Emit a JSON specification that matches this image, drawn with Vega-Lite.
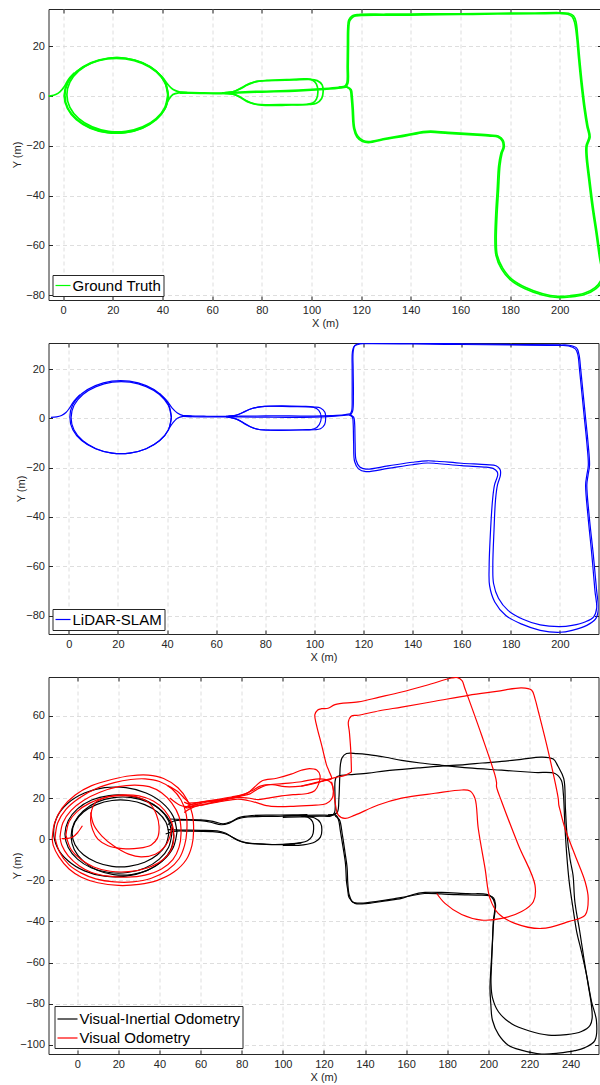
{
"$schema":"https://vega.github.io/schema/vega-lite/v6.json",
"padding":{"left":10.5,"top":8,"right":0,"bottom":0},
"columns":1,
"spacing":13,
"resolve":{"scale":{"x":"independent","y":"independent","color":"independent"},"legend":{"color":"independent"}},
"config":{
 "font":"Liberation Sans",
 "view":{"stroke":"#262626","strokeWidth":1},
 "axis":{"domain":false,"grid":true,"gridColor":"#d6d6d6","gridDash":[4,3],"gridWidth":0.8,"labelFont":"Liberation Sans","labelFontSize":11,"labelColor":"#262626","titleFont":"Liberation Sans","titleFontSize":11,"titleFontWeight":"normal","titleColor":"#262626","tickColor":"#262626","tickSize":-4,"labelPadding":8,"labelFlush":false,"labelOverlap":false},
 "axisX":{"titleY":23.5,"titleBaseline":"middle"},
 "axisY":{"titleX":-31,"titleBaseline":"middle"},
 "legend":{"orient":"bottom-left","labelFont":"Liberation Sans","labelFontSize":15,"labelColor":"#000000","symbolType":"stroke","symbolStrokeWidth":1.2,"strokeColor":"#262626","fillColor":"#ffffff","padding":2,"labelOffset":1,"rowPadding":0,"labelLimit":400}
},
"datasets":{
"gt":[
{"s":0,"x":-7.3,"y":0},{"s":0,"x":-5,"y":0.1},{"s":0,"x":-3,"y":0.6},{"s":0,"x":-1.2,"y":1.8},{"s":0,"x":0.5,"y":3.8},{"s":0,"x":2,"y":6.5},{"s":0,"x":4.5,"y":9.3},
{"s":1,"x":42.3,"y":0.3},{"s":1,"x":41.1,"y":5.5},{"s":1,"x":37.4,"y":10},{"s":1,"x":31.9,"y":13.4},{"s":1,"x":25.1,"y":15.2},{"s":1,"x":17.9,"y":15.2},{"s":1,"x":11.1,"y":13.4},{"s":1,"x":5.6,"y":10},{"s":1,"x":1.9,"y":5.5},{"s":1,"x":0.7,"y":0.3},{"s":1,"x":1.9,"y":-4.9},{"s":1,"x":5.6,"y":-9.4},{"s":1,"x":11.1,"y":-12.8},{"s":1,"x":17.9,"y":-14.6},{"s":1,"x":25.1,"y":-14.6},{"s":1,"x":31.9,"y":-12.8},{"s":1,"x":37.4,"y":-9.4},{"s":1,"x":41.1,"y":-4.9},{"s":1,"x":42.3,"y":0.3},
{"s":2,"x":42.1,"y":0.5},{"s":2,"x":40.9,"y":5.6},{"s":2,"x":37.4,"y":10.1},{"s":2,"x":32,"y":13.4},{"s":2,"x":25.3,"y":15.2},{"s":2,"x":18.3,"y":15.2},{"s":2,"x":11.7,"y":13.4},{"s":2,"x":6.3,"y":10.1},{"s":2,"x":2.7,"y":5.6},{"s":2,"x":1.5,"y":0.5},{"s":2,"x":2.7,"y":-4.6},{"s":2,"x":6.3,"y":-9.1},{"s":2,"x":11.7,"y":-12.4},{"s":2,"x":18.3,"y":-14.2},{"s":2,"x":25.3,"y":-14.2},{"s":2,"x":32,"y":-12.4},{"s":2,"x":37.4,"y":-9.1},{"s":2,"x":40.9,"y":-4.6},{"s":2,"x":42.1,"y":0.5},
{"s":3,"x":42.4,"y":0.1},{"s":3,"x":41.1,"y":5.2},{"s":3,"x":37.5,"y":9.7},{"s":3,"x":31.9,"y":13.1},{"s":3,"x":25.1,"y":14.9},{"s":3,"x":17.7,"y":14.9},{"s":3,"x":10.9,"y":13.1},{"s":3,"x":5.3,"y":9.7},{"s":3,"x":1.7,"y":5.2},{"s":3,"x":0.4,"y":0.1},{"s":3,"x":1.7,"y":-5},{"s":3,"x":5.3,"y":-9.5},{"s":3,"x":10.9,"y":-12.9},{"s":3,"x":17.7,"y":-14.7},{"s":3,"x":25.1,"y":-14.7},{"s":3,"x":31.9,"y":-12.9},{"s":3,"x":37.5,"y":-9.5},{"s":3,"x":41.1,"y":-5},{"s":3,"x":42.4,"y":0.1},
{"s":4,"x":37.4,"y":10},{"s":4,"x":40,"y":7.5},{"s":4,"x":42.3,"y":4.5},{"s":4,"x":44.3,"y":2.6},{"s":4,"x":47,"y":1.6},{"s":4,"x":50,"y":1.4},
{"s":5,"x":41.5,"y":-3.5},{"s":5,"x":42.6,"y":-1.3},{"s":5,"x":44.2,"y":0.6},{"s":5,"x":46.5,"y":1.3},{"s":5,"x":50,"y":1.3},
{"s":6,"x":47,"y":1.5},{"s":6,"x":55,"y":1.3},{"s":6,"x":62,"y":1.2},{"s":6,"x":68,"y":1.4},{"s":6,"x":75,"y":1.8},{"s":6,"x":85,"y":2},{"s":6,"x":95,"y":2.4},{"s":6,"x":105,"y":3},{"s":6,"x":111,"y":3.5},{"s":6,"x":114,"y":3.9},
{"s":7,"x":47,"y":1.2},{"s":7,"x":55,"y":1.1},{"s":7,"x":62,"y":1},{"s":7,"x":68,"y":1.2},{"s":7,"x":80,"y":1.6},{"s":7,"x":95,"y":2.1},{"s":7,"x":105,"y":2.7},{"s":7,"x":112,"y":3.3},{"s":7,"x":114.5,"y":3.7},
{"s":8,"x":64,"y":1.3},{"s":8,"x":68,"y":1.6},{"s":8,"x":71,"y":2.7},{"s":8,"x":74,"y":4.4},{"s":8,"x":77,"y":5.6},{"s":8,"x":80,"y":6.1},{"s":8,"x":86,"y":6.3},{"s":8,"x":93,"y":6.5},{"s":8,"x":99,"y":6.7},{"s":8,"x":102.3,"y":6.2},{"s":8,"x":104.3,"y":4.5},{"s":8,"x":104.7,"y":1.7},{"s":8,"x":104.1,"y":-1},{"s":8,"x":102,"y":-2.9},{"s":8,"x":99,"y":-3.4},{"s":8,"x":92,"y":-3.6},{"s":8,"x":85,"y":-3.8},{"s":8,"x":80,"y":-3.7},{"s":8,"x":77,"y":-3.2},{"s":8,"x":74,"y":-2},{"s":8,"x":71,"y":-0.2},{"s":8,"x":68,"y":0.9},{"s":8,"x":64,"y":1.2},
{"s":9,"x":65,"y":1.4},{"s":9,"x":69,"y":1.9},{"s":9,"x":72,"y":3.4},{"s":9,"x":75,"y":5},{"s":9,"x":78,"y":5.9},{"s":9,"x":82,"y":6.3},{"s":9,"x":90,"y":6.6},{"s":9,"x":98,"y":6.9},{"s":9,"x":100.5,"y":6.4},{"s":9,"x":102,"y":4.8},{"s":9,"x":102.6,"y":1.7},{"s":9,"x":102,"y":-1.2},{"s":9,"x":100.5,"y":-2.8},{"s":9,"x":98,"y":-3.3},{"s":9,"x":90,"y":-3.4},{"s":9,"x":82,"y":-3.5},{"s":9,"x":78,"y":-3.3},{"s":9,"x":75,"y":-2.6},{"s":9,"x":72,"y":-1},{"s":9,"x":69,"y":0.6},{"s":9,"x":65,"y":1.1},
{"s":10,"x":113.5,"y":3.9},{"s":10,"x":114.3,"y":5.5},{"s":10,"x":114.4,"y":12},{"s":10,"x":114.5,"y":20},{"s":10,"x":114.6,"y":27},{"s":10,"x":115,"y":30.5},{"s":10,"x":116.5,"y":32.3},{"s":10,"x":119,"y":32.8},{"s":10,"x":130,"y":32.9},{"s":10,"x":145,"y":33},{"s":10,"x":160,"y":33.1},{"s":10,"x":175,"y":33.3},{"s":10,"x":190,"y":33.4},{"s":10,"x":200,"y":33.5},{"s":10,"x":203.5,"y":33.3},{"s":10,"x":205.5,"y":32.3},{"s":10,"x":206.5,"y":30},{"s":10,"x":207.2,"y":24},{"s":10,"x":208,"y":15},{"s":10,"x":209,"y":5},{"s":10,"x":210.2,"y":-5},{"s":10,"x":211.3,"y":-12},{"s":10,"x":212.2,"y":-16.5},{"s":10,"x":211,"y":-20},{"s":10,"x":211,"y":-24},{"s":10,"x":212,"y":-33},{"s":10,"x":213.5,"y":-45},{"s":10,"x":215,"y":-55},{"s":10,"x":216.4,"y":-65},{"s":10,"x":217.5,"y":-71},{"s":10,"x":217,"y":-74.5},{"s":10,"x":214.5,"y":-77.5},{"s":10,"x":210,"y":-79.8},{"s":10,"x":204,"y":-80.8},{"s":10,"x":199,"y":-81},{"s":10,"x":193,"y":-80},{"s":10,"x":186,"y":-77.5},{"s":10,"x":180,"y":-73.8},{"s":10,"x":176.5,"y":-69.5},{"s":10,"x":174.3,"y":-64},{"s":10,"x":173.9,"y":-58},{"s":10,"x":174.2,"y":-48},{"s":10,"x":174.8,"y":-38},{"s":10,"x":175.4,"y":-28},{"s":10,"x":176.3,"y":-23},{"s":10,"x":177.2,"y":-20.5},{"s":10,"x":176.8,"y":-18},{"s":10,"x":175,"y":-16.5},{"s":10,"x":172,"y":-16.1},{"s":10,"x":165,"y":-15.6},{"s":10,"x":155,"y":-15},{"s":10,"x":148,"y":-14.5},{"s":10,"x":145,"y":-14.7},{"s":10,"x":138,"y":-16},{"s":10,"x":130,"y":-17.3},{"s":10,"x":123,"y":-18.7},{"s":10,"x":120.5,"y":-18.3},{"s":10,"x":118.3,"y":-16.5},{"s":10,"x":117,"y":-13},{"s":10,"x":116.4,"y":-5},{"s":10,"x":116,"y":0},{"s":10,"x":115.6,"y":2.5},{"s":10,"x":114.2,"y":3.7},{"s":10,"x":111,"y":3.6},
{"s":11,"x":113.8,"y":3.6},{"s":11,"x":114.7,"y":5.2},{"s":11,"x":114.8,"y":12},{"s":11,"x":114.9,"y":20},{"s":11,"x":115,"y":27},{"s":11,"x":115.4,"y":30.2},{"s":11,"x":117,"y":32},{"s":11,"x":120,"y":32.4},{"s":11,"x":130,"y":32.5},{"s":11,"x":145,"y":32.6},{"s":11,"x":160,"y":32.8},{"s":11,"x":175,"y":33},{"s":11,"x":190,"y":33.1},{"s":11,"x":200,"y":33.2},{"s":11,"x":203.2,"y":32.9},{"s":11,"x":205,"y":31.9},{"s":11,"x":206,"y":29.5},{"s":11,"x":206.8,"y":24},{"s":11,"x":207.6,"y":15},{"s":11,"x":208.6,"y":5},{"s":11,"x":209.8,"y":-5},{"s":11,"x":210.9,"y":-12},{"s":11,"x":211.8,"y":-16.3},{"s":11,"x":210.6,"y":-20},{"s":11,"x":210.6,"y":-24},{"s":11,"x":211.6,"y":-33},{"s":11,"x":213.1,"y":-45},{"s":11,"x":214.6,"y":-55},{"s":11,"x":216,"y":-65},{"s":11,"x":217,"y":-71},{"s":11,"x":216.6,"y":-74},{"s":11,"x":214.2,"y":-77},{"s":11,"x":209.8,"y":-79.3},{"s":11,"x":204,"y":-80.3},{"s":11,"x":199,"y":-80.5},{"s":11,"x":193.2,"y":-79.5},{"s":11,"x":186.3,"y":-77},{"s":11,"x":180.4,"y":-73.4},{"s":11,"x":177,"y":-69.2},{"s":11,"x":174.8,"y":-64},{"s":11,"x":174.4,"y":-58},{"s":11,"x":174.7,"y":-48},{"s":11,"x":175.3,"y":-38},{"s":11,"x":175.9,"y":-28},{"s":11,"x":176.7,"y":-23.2},{"s":11,"x":177.6,"y":-20.6},{"s":11,"x":177.2,"y":-17.8},{"s":11,"x":175.2,"y":-16.1},{"s":11,"x":172,"y":-15.7},{"s":11,"x":165,"y":-15.2},{"s":11,"x":155,"y":-14.6},{"s":11,"x":148,"y":-14.1},{"s":11,"x":145,"y":-14.3},{"s":11,"x":138,"y":-15.6},{"s":11,"x":130,"y":-17},{"s":11,"x":123,"y":-18.3},{"s":11,"x":120.8,"y":-17.9},{"s":11,"x":118.7,"y":-16.2},{"s":11,"x":117.4,"y":-13},{"s":11,"x":116.8,"y":-5},{"s":11,"x":116.4,"y":0},{"s":11,"x":116,"y":2.5},{"s":11,"x":114.5,"y":3.5}
],
"sl":[
{"s":0,"x":-7.3,"y":0.4},{"s":0,"x":-5,"y":0.6},{"s":0,"x":-3,"y":1.2},{"s":0,"x":-1.2,"y":2.4},{"s":0,"x":0.4,"y":4.4},{"s":0,"x":1.8,"y":6.6},{"s":0,"x":4.5,"y":9.6},
{"s":1,"x":41.8,"y":0.5},{"s":1,"x":40.6,"y":5.6},{"s":1,"x":37,"y":10},{"s":1,"x":31.5,"y":13.3},{"s":1,"x":24.7,"y":15.1},{"s":1,"x":17.5,"y":15.1},{"s":1,"x":10.8,"y":13.3},{"s":1,"x":5.2,"y":10},{"s":1,"x":1.6,"y":5.6},{"s":1,"x":0.4,"y":0.5},{"s":1,"x":1.6,"y":-4.6},{"s":1,"x":5.2,"y":-9},{"s":1,"x":10.8,"y":-12.3},{"s":1,"x":17.5,"y":-14.1},{"s":1,"x":24.7,"y":-14.1},{"s":1,"x":31.5,"y":-12.3},{"s":1,"x":37,"y":-9},{"s":1,"x":40.6,"y":-4.6},{"s":1,"x":41.8,"y":0.5},
{"s":2,"x":41.7,"y":0.3},{"s":2,"x":40.5,"y":5.3},{"s":2,"x":36.9,"y":9.7},{"s":2,"x":31.5,"y":12.9},{"s":2,"x":24.9,"y":14.7},{"s":2,"x":17.7,"y":14.7},{"s":2,"x":11.1,"y":12.9},{"s":2,"x":5.7,"y":9.7},{"s":2,"x":2.1,"y":5.3},{"s":2,"x":0.9,"y":0.3},{"s":2,"x":2.1,"y":-4.7},{"s":2,"x":5.7,"y":-9.1},{"s":2,"x":11.1,"y":-12.3},{"s":2,"x":17.7,"y":-14.1},{"s":2,"x":24.9,"y":-14.1},{"s":2,"x":31.5,"y":-12.3},{"s":2,"x":36.9,"y":-9.1},{"s":2,"x":40.5,"y":-4.7},{"s":2,"x":41.7,"y":0.3},
{"s":3,"x":37,"y":10},{"s":3,"x":39.8,"y":7.3},{"s":3,"x":42,"y":4.3},{"s":3,"x":44.2,"y":2.2},{"s":3,"x":46.6,"y":1.1},{"s":3,"x":50,"y":0.9},
{"s":4,"x":41,"y":-3.8},{"s":4,"x":42.5,"y":-1.6},{"s":4,"x":44.2,"y":0.1},{"s":4,"x":46.6,"y":0.8},{"s":4,"x":50,"y":0.7},
{"s":5,"x":46.6,"y":1.1},{"s":5,"x":55,"y":0.9},{"s":5,"x":62,"y":0.8},{"s":5,"x":70,"y":0.9},{"s":5,"x":80,"y":1},{"s":5,"x":90,"y":1},{"s":5,"x":100,"y":0.9},{"s":5,"x":107,"y":1.1},{"s":5,"x":112,"y":1.4},{"s":5,"x":114.5,"y":1.8},
{"s":6,"x":46.6,"y":0.8},{"s":6,"x":55,"y":0.6},{"s":6,"x":62,"y":0.6},{"s":6,"x":70,"y":0.6},{"s":6,"x":80,"y":0.5},{"s":6,"x":90,"y":0.4},{"s":6,"x":100,"y":0.5},{"s":6,"x":107,"y":0.8},{"s":6,"x":112,"y":1.2},{"s":6,"x":114.5,"y":1.4},
{"s":7,"x":64,"y":0.8},{"s":7,"x":68,"y":1.2},{"s":7,"x":71,"y":2.4},{"s":7,"x":74,"y":3.8},{"s":7,"x":77,"y":4.6},{"s":7,"x":80,"y":4.9},{"s":7,"x":90,"y":4.8},{"s":7,"x":100,"y":4.6},{"s":7,"x":102.5,"y":4.2},{"s":7,"x":104.3,"y":2.5},{"s":7,"x":104.6,"y":0},{"s":7,"x":104.2,"y":-2.5},{"s":7,"x":102.5,"y":-4.2},{"s":7,"x":100,"y":-4.6},{"s":7,"x":90,"y":-4.7},{"s":7,"x":80,"y":-4.7},{"s":7,"x":77,"y":-4.4},{"s":7,"x":74,"y":-3.4},{"s":7,"x":71,"y":-1.7},{"s":7,"x":68,"y":-0.2},{"s":7,"x":64,"y":0.6},
{"s":8,"x":65,"y":0.9},{"s":8,"x":69,"y":1.6},{"s":8,"x":72,"y":3},{"s":8,"x":75,"y":4.1},{"s":8,"x":78,"y":4.7},{"s":8,"x":82,"y":5},{"s":8,"x":95,"y":4.9},{"s":8,"x":99.5,"y":4.6},{"s":8,"x":101.8,"y":3.3},{"s":8,"x":102.8,"y":0.5},{"s":8,"x":102,"y":-2.5},{"s":8,"x":100,"y":-4.2},{"s":8,"x":95,"y":-4.6},{"s":8,"x":82,"y":-4.8},{"s":8,"x":78,"y":-4.6},{"s":8,"x":75,"y":-3.9},{"s":8,"x":72,"y":-2.5},{"s":8,"x":69,"y":-0.6},{"s":8,"x":65,"y":0.6},
{"s":9,"x":114.5,"y":1.6},{"s":9,"x":115.2,"y":3},{"s":9,"x":115.4,"y":10},{"s":9,"x":115.4,"y":20},{"s":9,"x":115.5,"y":27},{"s":9,"x":116.2,"y":29.2},{"s":9,"x":118.5,"y":30.2},{"s":9,"x":121,"y":30.3},{"s":9,"x":140,"y":30.2},{"s":9,"x":160,"y":30},{"s":9,"x":180,"y":29.8},{"s":9,"x":200,"y":29.6},{"s":9,"x":203.5,"y":29.4},{"s":9,"x":206.3,"y":28.2},{"s":9,"x":207.3,"y":26},{"s":9,"x":208,"y":20},{"s":9,"x":209,"y":10},{"s":9,"x":210,"y":0},{"s":9,"x":211,"y":-10},{"s":9,"x":211.6,"y":-19},{"s":9,"x":211,"y":-23},{"s":9,"x":210.5,"y":-27},{"s":9,"x":211.5,"y":-40},{"s":9,"x":213,"y":-55},{"s":9,"x":214.3,"y":-70},{"s":9,"x":215,"y":-77},{"s":9,"x":213.8,"y":-80.5},{"s":9,"x":210.5,"y":-82.5},{"s":9,"x":205,"y":-84},{"s":9,"x":200,"y":-84.5},{"s":9,"x":192,"y":-83.8},{"s":9,"x":185,"y":-81.5},{"s":9,"x":179,"y":-78},{"s":9,"x":175,"y":-73},{"s":9,"x":173,"y":-67},{"s":9,"x":172.7,"y":-60},{"s":9,"x":173.2,"y":-45},{"s":9,"x":173.8,"y":-33},{"s":9,"x":174.6,"y":-27},{"s":9,"x":175.8,"y":-23},{"s":9,"x":175.7,"y":-20.8},{"s":9,"x":174,"y":-19.2},{"s":9,"x":170,"y":-18.8},{"s":9,"x":160,"y":-18.2},{"s":9,"x":150,"y":-17.4},{"s":9,"x":146,"y":-17.2},{"s":9,"x":140,"y":-17.8},{"s":9,"x":130,"y":-19.3},{"s":9,"x":121,"y":-20.6},{"s":9,"x":118.5,"y":-19.7},{"s":9,"x":117,"y":-17},{"s":9,"x":116.6,"y":-10},{"s":9,"x":116.4,"y":-2},{"s":9,"x":116,"y":0.5},{"s":9,"x":114.5,"y":1.5},
{"s":10,"x":114.7,"y":1.3},{"s":10,"x":115.6,"y":3},{"s":10,"x":115.9,"y":10},{"s":10,"x":115.8,"y":20},{"s":10,"x":115.8,"y":27},{"s":10,"x":116.5,"y":29.6},{"s":10,"x":119,"y":30.5},{"s":10,"x":121,"y":30.6},{"s":10,"x":140,"y":30.5},{"s":10,"x":160,"y":30.3},{"s":10,"x":180,"y":30},{"s":10,"x":200,"y":29.8},{"s":10,"x":203.8,"y":29.7},{"s":10,"x":206.8,"y":28.6},{"s":10,"x":207.8,"y":26},{"s":10,"x":208.5,"y":20},{"s":10,"x":209.5,"y":10},{"s":10,"x":210.5,"y":0},{"s":10,"x":211.5,"y":-10},{"s":10,"x":212.1,"y":-19},{"s":10,"x":211.5,"y":-23},{"s":10,"x":211,"y":-27},{"s":10,"x":212,"y":-40},{"s":10,"x":213.6,"y":-55},{"s":10,"x":215,"y":-70},{"s":10,"x":215.7,"y":-77.5},{"s":10,"x":214.5,"y":-81.5},{"s":10,"x":211,"y":-84},{"s":10,"x":205,"y":-86},{"s":10,"x":200,"y":-86.8},{"s":10,"x":192,"y":-86},{"s":10,"x":184.5,"y":-83.5},{"s":10,"x":178,"y":-80},{"s":10,"x":173.5,"y":-74.5},{"s":10,"x":171.4,"y":-68},{"s":10,"x":171.2,"y":-60},{"s":10,"x":171.8,"y":-45},{"s":10,"x":172.6,"y":-33},{"s":10,"x":173.4,"y":-27},{"s":10,"x":174.7,"y":-23},{"s":10,"x":174.5,"y":-21.7},{"s":10,"x":172.8,"y":-20.3},{"s":10,"x":170,"y":-19.8},{"s":10,"x":160,"y":-19.2},{"s":10,"x":150,"y":-18.3},{"s":10,"x":146,"y":-18.1},{"s":10,"x":140,"y":-18.8},{"s":10,"x":130,"y":-20.3},{"s":10,"x":121,"y":-21.6},{"s":10,"x":118,"y":-20.5},{"s":10,"x":116.4,"y":-17.5},{"s":10,"x":116,"y":-10},{"s":10,"x":115.8,"y":-2},{"s":10,"x":115.5,"y":0.5},{"s":10,"x":114.2,"y":1.4}
],
"vio":[
{"s":1,"x":48.5,"y":3.5},{"s":1,"x":46.7,"y":11},{"s":1,"x":41.5,"y":17.5},{"s":1,"x":33.5,"y":22.4},{"s":1,"x":23.7,"y":25},{"s":1,"x":13.3,"y":25},{"s":1,"x":3.5,"y":22.4},{"s":1,"x":-4.5,"y":17.5},{"s":1,"x":-9.7,"y":11},{"s":1,"x":-11.5,"y":3.5},{"s":1,"x":-9.7,"y":-4},{"s":1,"x":-4.5,"y":-10.5},{"s":1,"x":3.5,"y":-15.4},{"s":1,"x":13.3,"y":-18},{"s":1,"x":23.7,"y":-18},{"s":1,"x":33.5,"y":-15.4},{"s":1,"x":41.5,"y":-10.5},{"s":1,"x":46.7,"y":-4},{"s":1,"x":48.5,"y":3.5},
{"s":2,"x":46,"y":2.5},{"s":2,"x":44.4,"y":9},{"s":2,"x":39.9,"y":14.7},{"s":2,"x":33,"y":19},{"s":2,"x":24.5,"y":21.2},{"s":2,"x":15.5,"y":21.2},{"s":2,"x":7,"y":19},{"s":2,"x":0.1,"y":14.7},{"s":2,"x":-4.4,"y":9},{"s":2,"x":-6,"y":2.5},{"s":2,"x":-4.4,"y":-4},{"s":2,"x":0.1,"y":-9.7},{"s":2,"x":7,"y":-14},{"s":2,"x":15.5,"y":-16.2},{"s":2,"x":24.5,"y":-16.2},{"s":2,"x":33,"y":-14},{"s":2,"x":39.9,"y":-9.7},{"s":2,"x":44.4,"y":-4},{"s":2,"x":46,"y":2.5},
{"s":3,"x":44.5,"y":2.8},{"s":3,"x":43.1,"y":8.3},{"s":3,"x":39,"y":13.2},{"s":3,"x":32.8,"y":16.8},{"s":3,"x":25.1,"y":18.8},{"s":3,"x":16.9,"y":18.8},{"s":3,"x":9.3,"y":16.8},{"s":3,"x":3,"y":13.2},{"s":3,"x":-1.1,"y":8.3},{"s":3,"x":-2.5,"y":2.8},{"s":3,"x":-1.1,"y":-2.7},{"s":3,"x":3,"y":-7.6},{"s":3,"x":9.3,"y":-11.2},{"s":3,"x":16.9,"y":-13.2},{"s":3,"x":25.1,"y":-13.2},{"s":3,"x":32.8,"y":-11.2},{"s":3,"x":39,"y":-7.6},{"s":3,"x":43.1,"y":-2.7},{"s":3,"x":44.5,"y":2.8},
{"s":4,"x":47,"y":1.5},{"s":4,"x":45.5,"y":8},{"s":4,"x":41.2,"y":13.7},{"s":4,"x":34.5,"y":18},{"s":4,"x":26.4,"y":20.2},{"s":4,"x":17.7,"y":20.2},{"s":4,"x":9.5,"y":18},{"s":4,"x":2.9,"y":13.7},{"s":4,"x":-1.5,"y":8},{"s":4,"x":-3,"y":1.5},{"s":4,"x":-1.5,"y":-5},{"s":4,"x":2.9,"y":-10.7},{"s":4,"x":9.5,"y":-15},{"s":4,"x":17.7,"y":-17.2},{"s":4,"x":26.4,"y":-17.2},{"s":4,"x":34.5,"y":-15},{"s":4,"x":41.2,"y":-10.7},{"s":4,"x":45.5,"y":-5},{"s":4,"x":47,"y":1.5},
{"s":5,"x":44,"y":7},{"s":5,"x":47,"y":8.8},{"s":5,"x":52,"y":9.2},{"s":5,"x":60,"y":9},{"s":5,"x":65,"y":8.2},{"s":5,"x":70,"y":7},{"s":5,"x":74,"y":7.8},{"s":5,"x":78,"y":9.8},{"s":5,"x":83,"y":10.8},{"s":5,"x":90,"y":11},{"s":5,"x":100,"y":11.2},{"s":5,"x":109,"y":11.6},{"s":5,"x":118,"y":11.7},{"s":5,"x":124,"y":11.7},{"s":5,"x":126,"y":12.5},
{"s":6,"x":45,"y":9.8},{"s":6,"x":50,"y":9.6},{"s":6,"x":60,"y":9.4},{"s":6,"x":66,"y":8.6},{"s":6,"x":71,"y":7.5},{"s":6,"x":75,"y":8.6},{"s":6,"x":79,"y":10.6},{"s":6,"x":85,"y":11.5},{"s":6,"x":95,"y":11.7},{"s":6,"x":105,"y":11.8},{"s":6,"x":112,"y":11.9},
{"s":7,"x":43,"y":2.5},{"s":7,"x":47,"y":3.8},{"s":7,"x":55,"y":3.9},{"s":7,"x":65,"y":3.7},{"s":7,"x":70,"y":3.2},{"s":7,"x":74,"y":1.8},{"s":7,"x":78,"y":-0.5},{"s":7,"x":82,"y":-1.8},{"s":7,"x":88,"y":-2.3},{"s":7,"x":95,"y":-2.6},{"s":7,"x":103,"y":-2.4},{"s":7,"x":109,"y":-1.8},
{"s":8,"x":44,"y":4.6},{"s":8,"x":50,"y":4.4},{"s":8,"x":60,"y":4.3},{"s":8,"x":68,"y":4},{"s":8,"x":72,"y":3},{"s":8,"x":76,"y":0.6},{"s":8,"x":80,"y":-1.2},{"s":8,"x":85,"y":-2.1},{"s":8,"x":92,"y":-2.5},{"s":8,"x":100,"y":-2.7},{"s":8,"x":106,"y":-2.8},
{"s":9,"x":100,"y":11.2},{"s":9,"x":108,"y":11.4},{"s":9,"x":112,"y":10.8},{"s":9,"x":114.5,"y":8.5},{"s":9,"x":115,"y":5},{"s":9,"x":114.3,"y":1.5},{"s":9,"x":112,"y":-0.8},{"s":9,"x":108,"y":-1.8},{"s":9,"x":100,"y":-2.6},
{"s":10,"x":100,"y":10.6},{"s":10,"x":110,"y":10.8},{"s":10,"x":115.5,"y":10.3},{"s":10,"x":118.3,"y":8},{"s":10,"x":119,"y":4.5},{"s":10,"x":118.3,"y":1},{"s":10,"x":115.8,"y":-1.3},{"s":10,"x":110,"y":-2.8},{"s":10,"x":100,"y":-3},
{"s":11,"x":124,"y":11.7},{"s":11,"x":126.5,"y":13},{"s":11,"x":127.3,"y":20},{"s":11,"x":127.7,"y":30},{"s":11,"x":128,"y":36},{"s":11,"x":128.8,"y":39.5},{"s":11,"x":131,"y":41.6},{"s":11,"x":136,"y":41.6},{"s":11,"x":141.6,"y":41.1},{"s":11,"x":150,"y":39.8},{"s":11,"x":157.8,"y":38.3},{"s":11,"x":167,"y":37},{"s":11,"x":177.3,"y":35.9},{"s":11,"x":190.3,"y":34.6},{"s":11,"x":206.5,"y":33.5},{"s":11,"x":222.7,"y":32.4},{"s":11,"x":232.4,"y":31.9},{"s":11,"x":235.5,"y":28.6},{"s":11,"x":236.5,"y":22},{"s":11,"x":237.1,"y":10},{"s":11,"x":237.5,"y":2},{"s":11,"x":238.5,"y":-12},{"s":11,"x":239.5,"y":-22},{"s":11,"x":241.2,"y":-33.6},{"s":11,"x":243,"y":-45},{"s":11,"x":245.3,"y":-54.6},{"s":11,"x":248,"y":-67},{"s":11,"x":250.2,"y":-78.9},{"s":11,"x":252.6,"y":-88.2},{"s":11,"x":251.8,"y":-97.9},{"s":11,"x":247,"y":-101.3},{"s":11,"x":242.1,"y":-102.8},{"s":11,"x":234,"y":-104},{"s":11,"x":225.9,"y":-104.4},{"s":11,"x":216,"y":-102.5},{"s":11,"x":209.7,"y":-100.1},{"s":11,"x":205,"y":-95},{"s":11,"x":202,"y":-88},{"s":11,"x":201.2,"y":-80},{"s":11,"x":200.8,"y":-72.5},{"s":11,"x":201.3,"y":-62},{"s":11,"x":202,"y":-50},{"s":11,"x":202.4,"y":-40.1},{"s":11,"x":203.2,"y":-31.5},{"s":11,"x":201.5,"y":-28},{"s":11,"x":199.2,"y":-26.8},{"s":11,"x":190,"y":-26.5},{"s":11,"x":177.3,"y":-25.9},{"s":11,"x":169.2,"y":-25.9},{"s":11,"x":163,"y":-27},{"s":11,"x":157.8,"y":-28.8},{"s":11,"x":150,"y":-30},{"s":11,"x":141.6,"y":-31.2},{"s":11,"x":135.1,"y":-31.2},{"s":11,"x":132.3,"y":-28.5},{"s":11,"x":131.5,"y":-24},{"s":11,"x":131,"y":-20.7},{"s":11,"x":130.5,"y":-12},{"s":11,"x":129.4,"y":-4.5},{"s":11,"x":128,"y":4},{"s":11,"x":127.2,"y":9},{"s":11,"x":126,"y":11.5},{"s":11,"x":122,"y":11.8},
{"s":12,"x":109,"y":11},{"s":12,"x":118,"y":11.2},{"s":12,"x":123.5,"y":11.3},{"s":12,"x":125.2,"y":13},{"s":12,"x":125.4,"y":20},{"s":12,"x":125.4,"y":27.9},{"s":12,"x":126,"y":30},{"s":12,"x":127.5,"y":30.8},{"s":12,"x":132,"y":31.3},{"s":12,"x":141.6,"y":32.1},{"s":12,"x":150,"y":33.2},{"s":12,"x":165.9,"y":34.6},{"s":12,"x":177,"y":35.5},{"s":12,"x":188.6,"y":36.2},{"s":12,"x":197,"y":37},{"s":12,"x":206.5,"y":37.8},{"s":12,"x":216,"y":38.8},{"s":12,"x":226,"y":39.9},{"s":12,"x":231.6,"y":38.9},{"s":12,"x":233.9,"y":35.4},{"s":12,"x":236.7,"y":29.4},{"s":12,"x":237.5,"y":15},{"s":12,"x":238.3,"y":1.9},{"s":12,"x":239.8,"y":-10},{"s":12,"x":241.2,"y":-17.4},{"s":12,"x":242.1,"y":-30.4},{"s":12,"x":244.5,"y":-45},{"s":12,"x":246.5,"y":-58},{"s":12,"x":248.6,"y":-70.9},{"s":12,"x":250.2,"y":-81},{"s":12,"x":250.5,"y":-87.1},{"s":12,"x":249.5,"y":-90.5},{"s":12,"x":245.3,"y":-93.5},{"s":12,"x":238,"y":-95},{"s":12,"x":229.2,"y":-95.2},{"s":12,"x":220,"y":-93.2},{"s":12,"x":211.3,"y":-89.7},{"s":12,"x":205,"y":-84},{"s":12,"x":202,"y":-77},{"s":12,"x":201.3,"y":-70},{"s":12,"x":201.6,"y":-60},{"s":12,"x":202.1,"y":-48},{"s":12,"x":202.6,"y":-40},{"s":12,"x":203.5,"y":-31.8},{"s":12,"x":202.6,"y":-28.6},{"s":12,"x":200.5,"y":-27.5},{"s":12,"x":195,"y":-27.2},{"s":12,"x":185,"y":-27},{"s":12,"x":177,"y":-26.6},{"s":12,"x":169,"y":-26.4},{"s":12,"x":162,"y":-27.6},{"s":12,"x":155,"y":-28.8},{"s":12,"x":146,"y":-30.2},{"s":12,"x":138,"y":-31.1},{"s":12,"x":134,"y":-30.5},{"s":12,"x":132.3,"y":-27},{"s":12,"x":131.6,"y":-21},{"s":12,"x":131.3,"y":-14},{"s":12,"x":130.2,"y":-6},{"s":12,"x":129,"y":2},{"s":12,"x":127.5,"y":9.5},{"s":12,"x":125.5,"y":11.3}
],
"vo":[
{"s":0,"x":-7.6,"y":0.3},{"s":0,"x":-4.5,"y":0.4},{"s":0,"x":-2,"y":1.2},{"s":0,"x":0,"y":3},{"s":0,"x":2.5,"y":6.5},
{"s":1,"x":-12.2,"y":0.3},{"s":1,"x":-11,"y":8},{"s":1,"x":-7.5,"y":15},{"s":1,"x":-1,"y":21.5},{"s":1,"x":7,"y":26},{"s":1,"x":16.7,"y":29},{"s":1,"x":26,"y":30.8},{"s":1,"x":34.5,"y":31.1},{"s":1,"x":42,"y":29.5},{"s":1,"x":49,"y":25},{"s":1,"x":53.5,"y":19},{"s":1,"x":56,"y":12},{"s":1,"x":56.6,"y":4},{"s":1,"x":55.8,"y":-3},{"s":1,"x":53,"y":-10},{"s":1,"x":47,"y":-16},{"s":1,"x":39,"y":-20},{"s":1,"x":30,"y":-22},{"s":1,"x":20,"y":-22.5},{"s":1,"x":10,"y":-21.2},{"s":1,"x":2,"y":-18.5},{"s":1,"x":-4,"y":-14.5},{"s":1,"x":-9,"y":-8.5},{"s":1,"x":-11.7,"y":-3},{"s":1,"x":-12.2,"y":0.3},
{"s":2,"x":-10.8,"y":0.5},{"s":2,"x":-9.5,"y":8},{"s":2,"x":-5.5,"y":14.5},{"s":2,"x":1,"y":20},{"s":2,"x":9,"y":24.5},{"s":2,"x":18,"y":27.5},{"s":2,"x":26,"y":29},{"s":2,"x":33,"y":29.3},{"s":2,"x":40,"y":28},{"s":2,"x":46,"y":24.5},{"s":2,"x":50.5,"y":19},{"s":2,"x":53,"y":12},{"s":2,"x":53.3,"y":4},{"s":2,"x":52.2,"y":-3},{"s":2,"x":49.5,"y":-9.5},{"s":2,"x":44,"y":-15},{"s":2,"x":36,"y":-19},{"s":2,"x":27,"y":-20.8},{"s":2,"x":18,"y":-20.8},{"s":2,"x":9,"y":-19.3},{"s":2,"x":2,"y":-16.5},{"s":2,"x":-4,"y":-12.5},{"s":2,"x":-8.5,"y":-6.5},{"s":2,"x":-10.8,"y":0.5},
{"s":3,"x":-8.4,"y":1},{"s":3,"x":-7,"y":8},{"s":3,"x":-3,"y":14},{"s":3,"x":3,"y":18.8},{"s":3,"x":11,"y":22.8},{"s":3,"x":20,"y":25.5},{"s":3,"x":28,"y":26.3},{"s":3,"x":35,"y":25.5},{"s":3,"x":41,"y":22.5},{"s":3,"x":46,"y":17.5},{"s":3,"x":49.5,"y":11},{"s":3,"x":50.5,"y":3},{"s":3,"x":49.5,"y":-4},{"s":3,"x":46.5,"y":-10},{"s":3,"x":41,"y":-14.5},{"s":3,"x":33,"y":-17.5},{"s":3,"x":24,"y":-18.5},{"s":3,"x":15,"y":-18},{"s":3,"x":7,"y":-16.2},{"s":3,"x":1,"y":-13},{"s":3,"x":-4.5,"y":-8},{"s":3,"x":-7.5,"y":-3},{"s":3,"x":-8.4,"y":1},
{"s":4,"x":-5.5,"y":2},{"s":4,"x":-4,"y":8.5},{"s":4,"x":0,"y":13.5},{"s":4,"x":6,"y":17.5},{"s":4,"x":14,"y":20.5},{"s":4,"x":22,"y":21.5},{"s":4,"x":30,"y":21},{"s":4,"x":37,"y":18.5},{"s":4,"x":42.5,"y":14},{"s":4,"x":46,"y":8},{"s":4,"x":47,"y":1},{"s":4,"x":45.5,"y":-5.5},{"s":4,"x":41,"y":-10.5},{"s":4,"x":34,"y":-14},{"s":4,"x":25,"y":-15.8},{"s":4,"x":16,"y":-15.6},{"s":4,"x":8,"y":-13.5},{"s":4,"x":2,"y":-10},{"s":4,"x":-3,"y":-5},{"s":4,"x":-5.5,"y":2},
{"s":5,"x":7,"y":14},{"s":5,"x":9,"y":18},{"s":5,"x":15,"y":20.5},{"s":5,"x":22,"y":21.2},{"s":5,"x":29,"y":20.5},{"s":5,"x":35,"y":17.5},{"s":5,"x":38.5,"y":12},{"s":5,"x":39.8,"y":6},{"s":5,"x":39,"y":0.5},{"s":5,"x":36,"y":-2.8},{"s":5,"x":30,"y":-4.4},{"s":5,"x":22,"y":-4.6},{"s":5,"x":15,"y":-3.2},{"s":5,"x":10,"y":0},{"s":5,"x":7.5,"y":4.5},{"s":5,"x":6.5,"y":9},{"s":5,"x":7,"y":14},
{"s":13,"x":6.5,"y":13},{"s":13,"x":8,"y":7},{"s":13,"x":12,"y":1.5},{"s":13,"x":18,"y":-3.5},{"s":13,"x":25,"y":-7.3},{"s":13,"x":31,"y":-8.6},{"s":13,"x":38,"y":-7.3},{"s":13,"x":42.5,"y":-3.8},{"s":13,"x":45,"y":1},{"s":13,"x":46,"y":6},
{"s":6,"x":52,"y":18},{"s":6,"x":56,"y":16.6},{"s":6,"x":62,"y":17.8},{"s":6,"x":70,"y":19.2},{"s":6,"x":78,"y":20.8},{"s":6,"x":83,"y":22.5},{"s":6,"x":87,"y":26},{"s":6,"x":90,"y":28.4},{"s":6,"x":97,"y":29.6},{"s":6,"x":104,"y":31.6},{"s":6,"x":109,"y":33.5},{"s":6,"x":113,"y":34.3},{"s":6,"x":116.5,"y":33.6},{"s":6,"x":118.1,"y":31},{"s":6,"x":117.5,"y":27},{"s":6,"x":115.5,"y":23.5},{"s":6,"x":112,"y":22.2},{"s":6,"x":105,"y":21.6},{"s":6,"x":98,"y":20.8},{"s":6,"x":92,"y":19.8},{"s":6,"x":88,"y":19.2},{"s":6,"x":83,"y":20},{"s":6,"x":78,"y":20.3},{"s":6,"x":70,"y":18.6},{"s":6,"x":62,"y":17},{"s":6,"x":56,"y":15.3},{"s":6,"x":52,"y":13},
{"s":7,"x":53,"y":15},{"s":7,"x":56,"y":15.8},{"s":7,"x":62,"y":16.8},{"s":7,"x":70,"y":18.3},{"s":7,"x":78,"y":19.5},{"s":7,"x":83,"y":18.8},{"s":7,"x":88,"y":17.5},{"s":7,"x":92,"y":16.3},{"s":7,"x":97.7,"y":15.8},{"s":7,"x":104,"y":15.9},{"s":7,"x":109,"y":16.2},{"s":7,"x":116,"y":16.5},{"s":7,"x":121,"y":17.2},{"s":7,"x":123.8,"y":19.5},{"s":7,"x":124.6,"y":23.5},{"s":7,"x":123.8,"y":27},{"s":7,"x":121,"y":28.9},{"s":7,"x":116,"y":29.2},{"s":7,"x":109,"y":27.9},{"s":7,"x":100,"y":27},{"s":7,"x":92,"y":26.2},{"s":7,"x":88,"y":24.5},{"s":7,"x":84,"y":22},{"s":7,"x":80,"y":21},{"s":7,"x":72,"y":19.5},{"s":7,"x":62,"y":18.2},{"s":7,"x":56,"y":17},{"s":7,"x":52,"y":15},
{"s":8,"x":54,"y":17.5},{"s":8,"x":58,"y":17.8},{"s":8,"x":66,"y":19},{"s":8,"x":75,"y":20.5},{"s":8,"x":80,"y":21.5},{"s":8,"x":85,"y":23.5},{"s":8,"x":89,"y":25.8},{"s":8,"x":95,"y":26.5},{"s":8,"x":101,"y":25.5},{"s":8,"x":109,"y":25.8},{"s":8,"x":115,"y":27},{"s":8,"x":121,"y":28.8},{"s":8,"x":126,"y":30},{"s":8,"x":130.2,"y":31},{"s":8,"x":133.4,"y":32.6},
{"s":9,"x":133.4,"y":32.6},{"s":9,"x":133.1,"y":42.4},{"s":9,"x":132.4,"y":52},{"s":9,"x":131.9,"y":57},{"s":9,"x":133.4,"y":59.9},{"s":9,"x":136.7,"y":60.2},{"s":9,"x":147,"y":62.4},{"s":9,"x":157.8,"y":64.2},{"s":9,"x":174,"y":67},{"s":9,"x":190.3,"y":69.9},{"s":9,"x":204,"y":71.8},{"s":9,"x":216.2,"y":73.5},{"s":9,"x":221.1,"y":72.4},{"s":9,"x":222.7,"y":68.3},{"s":9,"x":224.4,"y":61.8},{"s":9,"x":229.2,"y":42.4},{"s":9,"x":234,"y":19.8},{"s":9,"x":234.3,"y":16.5},{"s":9,"x":234.9,"y":14.1},{"s":9,"x":237.3,"y":5.2},{"s":9,"x":242.2,"y":-7.8},{"s":9,"x":247.1,"y":-20.7},{"s":9,"x":248.6,"y":-28.8},{"s":9,"x":247.1,"y":-36.9},{"s":9,"x":239,"y":-40.1},{"s":9,"x":225.9,"y":-43.4},{"s":9,"x":212.9,"y":-40.9},{"s":9,"x":204.8,"y":-36.1},{"s":9,"x":200.8,"y":-28.8},{"s":9,"x":198.4,"y":-14.2},{"s":9,"x":195.1,"y":5.2},{"s":9,"x":193.5,"y":19.8},{"s":9,"x":191.1,"y":23.4},{"s":9,"x":187.1,"y":23.9},{"s":9,"x":174,"y":22.3},{"s":9,"x":157.8,"y":19.9},{"s":9,"x":146.4,"y":16.6},{"s":9,"x":135.1,"y":11.7},{"s":9,"x":130.2,"y":10.1},{"s":9,"x":127,"y":11.7},{"s":9,"x":125.4,"y":18.2},{"s":9,"x":124.6,"y":24},{"s":9,"x":123.7,"y":27.9},
{"s":10,"x":109,"y":25.8},{"s":10,"x":115,"y":27.2},{"s":10,"x":121,"y":28.6},{"s":10,"x":123.7,"y":29.4},{"s":10,"x":122.5,"y":33},{"s":10,"x":121.3,"y":36},{"s":10,"x":118.9,"y":45.7},{"s":10,"x":116.4,"y":55.4},{"s":10,"x":115.6,"y":60.5},{"s":10,"x":117,"y":62.8},{"s":10,"x":118.9,"y":63.4},{"s":10,"x":122,"y":63.6},{"s":10,"x":125.4,"y":65.4},{"s":10,"x":136.7,"y":66.7},{"s":10,"x":147,"y":69},{"s":10,"x":157.8,"y":71.5},{"s":10,"x":170,"y":74.8},{"s":10,"x":182.2,"y":78.3},{"s":10,"x":185,"y":78.5},{"s":10,"x":187.2,"y":77},{"s":10,"x":188.6,"y":73.2},{"s":10,"x":196.7,"y":50.6},{"s":10,"x":203.2,"y":31.2},{"s":10,"x":204,"y":27.5},{"s":10,"x":204,"y":25.4},{"s":10,"x":206.5,"y":18.2},{"s":10,"x":214.6,"y":-2.8},{"s":10,"x":222.7,"y":-22.3},{"s":10,"x":221.9,"y":-30.4},{"s":10,"x":216.2,"y":-35.2},{"s":10,"x":206.5,"y":-38.5},{"s":10,"x":196.7,"y":-39.3},{"s":10,"x":187,"y":-36.6},{"s":10,"x":178.9,"y":-31.2},{"s":10,"x":174.9,"y":-26.4},
{"s":11,"x":44,"y":26},{"s":11,"x":49,"y":23},{"s":11,"x":53,"y":19},{"s":11,"x":56,"y":16.5},{"s":11,"x":59,"y":17.2},
{"s":12,"x":45,"y":20},{"s":12,"x":50,"y":16.5},{"s":12,"x":53.5,"y":15.8},{"s":12,"x":57,"y":16}
]
},
"concat":[
{
 "width":553,"height":291,
 "resolve":{"axis":{"x":"independent","y":"independent"}},
 "layer":[
  {"data":{"name":"gt"},"transform":[{"filter":"datum.s < 10"}],
   "mark":{"type":"line","strokeWidth":1.7,"clip":true,"interpolate":"catmull-rom"},
   "encoding":{
    "x":{"field":"x","type":"quantitative","scale":{"domain":[-5.9,216.8],"nice":false,"zero":false},"axis":{"title":"X (m)","values":[0,20,40,60,80,100,120,140,160,180,200]}},
    "y":{"field":"y","type":"quantitative","scale":{"domain":[-82,35],"nice":false,"zero":false},"axis":{"title":"Y (m)","values":[-80,-60,-40,-20,0,20]}},
    "detail":{"field":"s","type":"nominal"},
    "order":{"value":null},
    "color":{"datum":"Ground Truth","scale":{"range":["#00ff00"]},"legend":{"title":null,"offset":4,"symbolSize":225}}
   }},
  {"data":{"name":"gt"},"transform":[{"filter":"datum.s >= 10"}],
   "mark":{"type":"line","strokeWidth":1.7,"clip":true,"interpolate":"catmull-rom"},
   "encoding":{
    "x":{"field":"x","type":"quantitative","axis":{"orient":"top","labels":false,"title":null,"grid":false,"values":[0,20,40,60,80,100,120,140,160,180,200]}},
    "y":{"field":"y","type":"quantitative","axis":{"orient":"right","labels":false,"title":null,"grid":false,"values":[-80,-60,-40,-20,0,20]}},
    "detail":{"field":"s","type":"nominal"},
    "order":{"value":null},
    "color":{"datum":"Ground Truth"}
   }}
 ]
},
{
 "width":550,"height":291,
 "resolve":{"axis":{"x":"independent","y":"independent"}},
 "layer":[
  {"data":{"name":"sl"},"transform":[{"filter":"datum.s < 9"}],
   "mark":{"type":"line","strokeWidth":1.2,"clip":true,"interpolate":"catmull-rom"},
   "encoding":{
    "x":{"field":"x","type":"quantitative","scale":{"domain":[-8.3,215.75],"nice":false,"zero":false},"axis":{"title":"X (m)","values":[0,20,40,60,80,100,120,140,160,180,200]}},
    "y":{"field":"y","type":"quantitative","scale":{"domain":[-87.5,30.6],"nice":false,"zero":false},"axis":{"title":"Y (m)","titleX":-27,"values":[-80,-60,-40,-20,0,20]}},
    "detail":{"field":"s","type":"nominal"},
    "order":{"value":null},
    "color":{"datum":"LiDAR-SLAM","scale":{"range":["#0000ff"]},"legend":{"title":null,"offset":4,"symbolSize":225}}
   }},
  {"data":{"name":"sl"},"transform":[{"filter":"datum.s >= 9"}],
   "mark":{"type":"line","strokeWidth":1.2,"clip":true,"interpolate":"catmull-rom"},
   "encoding":{
    "x":{"field":"x","type":"quantitative","axis":{"orient":"top","labels":false,"title":null,"grid":false,"values":[0,20,40,60,80,100,120,140,160,180,200]}},
    "y":{"field":"y","type":"quantitative","axis":{"orient":"right","labels":false,"title":null,"grid":false,"values":[-80,-60,-40,-20,0,20]}},
    "detail":{"field":"s","type":"nominal"},
    "order":{"value":null},
    "color":{"datum":"LiDAR-SLAM"}
   }}
 ]
},
{
 "width":550,"height":377,
 "resolve":{"axis":{"x":"independent","y":"independent"}},
 "layer":[
  {"data":{"name":"vio"},"mark":{"type":"line","strokeWidth":1.2,"clip":true,"interpolate":"catmull-rom"},
   "encoding":{
    "x":{"field":"x","type":"quantitative","scale":{"domain":[-14,253.6],"nice":false,"zero":false},"axis":{"title":"X (m)","values":[0,20,40,60,80,100,120,140,160,180,200,220,240]}},
    "y":{"field":"y","type":"quantitative","scale":{"domain":[-104.4,78.8],"nice":false,"zero":false},"axis":{"title":"Y (m)","values":[-100,-80,-60,-40,-20,0,20,40,60]}},
    "detail":{"field":"s","type":"nominal"},
    "order":{"value":null},
    "color":{"datum":"Visual-Inertial Odometry","scale":{"domain":["Visual-Inertial Odometry","Visual Odometry"],"range":["#000000","#ff0000"]},"legend":{"title":null,"offset":6,"symbolSize":400}}
   }},
  {"data":{"name":"vo"},"mark":{"type":"line","strokeWidth":1.2,"clip":true,"interpolate":"catmull-rom"},
   "encoding":{
    "x":{"field":"x","type":"quantitative","axis":{"orient":"top","labels":false,"title":null,"grid":false,"values":[0,20,40,60,80,100,120,140,160,180,200,220,240]}},
    "y":{"field":"y","type":"quantitative","axis":{"orient":"right","labels":false,"title":null,"grid":false,"values":[-100,-80,-60,-40,-20,0,20,40,60]}},
    "detail":{"field":"s","type":"nominal"},
    "order":{"value":null},
    "color":{"datum":"Visual Odometry"}
   }}
 ]
}
]
}
